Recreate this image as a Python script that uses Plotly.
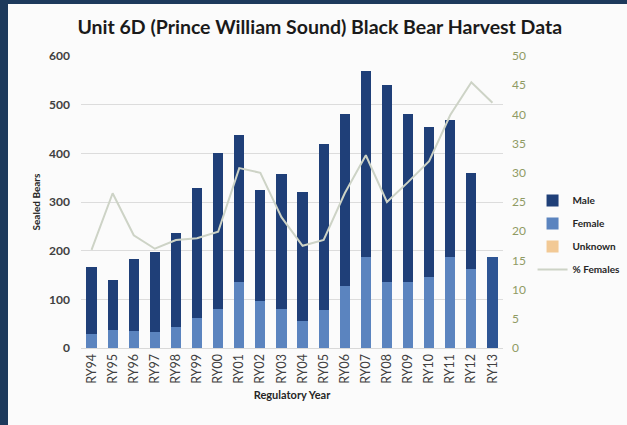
import plotly.graph_objects as go

years = ["RY94", "RY95", "RY96", "RY97", "RY98", "RY99", "RY00", "RY01", "RY02", "RY03",
         "RY04", "RY05", "RY06", "RY07", "RY08", "RY09", "RY10", "RY11", "RY12", "RY13"]
female = [28, 37, 35, 33, 44, 62, 80, 135, 97, 80, 56, 78, 127, 188, 135, 136, 145, 187, 163, 0]
male = [139, 103, 148, 164, 192, 266, 320, 302, 227, 277, 264, 341, 353, 381, 405, 344, 309, 281, 196, 187]
unknown = [0] * 20
pct_female = [16.8, 26.5, 19.3, 17.0, 18.5, 18.8, 19.9, 30.8, 30.0, 22.4,
              17.5, 18.5, 26.5, 33.0, 25.0, 28.4, 32.0, 39.9, 45.5, 42.0]

W, H = 627, 425
ML, MR, MT, MB = 81, 124, 56, 77
pw = W - ML - MR
ph = H - MT - MB

male_colors = ["#1f3f78"] * 19 + ["#2d5594"]

fig = go.Figure()
fig.add_trace(go.Bar(x=years, y=female, name="Female", marker=dict(color="#5b84bf", line=dict(width=0)),
                     legendrank=2, legendgroup="f"))
fig.add_trace(go.Bar(x=years, y=male, name="Male", marker=dict(color=male_colors, line=dict(width=0)),
                     legendrank=1, legendgroup="m"))
fig.add_trace(go.Bar(x=years, y=unknown, name="Unknown", marker=dict(color="#f2c995", line=dict(width=0)),
                     legendrank=3, legendgroup="u"))
fig.add_trace(go.Scatter(x=years, y=pct_female, name="% Females", mode="lines", yaxis="y2",
                         line=dict(color="#cdd3c6", width=2), legendrank=4, legendgroup="p"))

def px_x(p):
    return (p - ML) / pw

def px_y(p):
    return (H - MB - p) / ph

# dark frame comes from the paper colour; a light panel covers all but the top and left edges
shapes = [
    dict(type="rect", xref="paper", yref="paper", x0=px_x(8), x1=px_x(W + 2), y0=px_y(H + 2), y1=px_y(4),
         fillcolor="#fbfbfb", line=dict(width=0), layer="below"),
]

fig.update_layout(
    width=W, height=H,
    margin=dict(l=ML, r=MR, t=MT, b=MB, pad=0, autoexpand=False),
    paper_bgcolor="#1d3a5c", plot_bgcolor="#fbfbfb",
    barmode="stack", bargap=0.52,
    title=dict(text="<b>Unit 6D (Prince William Sound) Black Bear Harvest Data</b>",
               x=0.51, xanchor="center", y=0.935, yanchor="middle",
               font=dict(family="Lato", size=19.5, color="#1a1a1a")),
    font=dict(family="Lato", color="#404040"),
    xaxis=dict(tickangle=-90, tickfont=dict(size=12.5, color="#404040"), showgrid=False,
               showline=True, linecolor="#d9d9d9", ticks="",
               title=dict(text="<b>Regulatory Year</b>", font=dict(size=11, color="#262626"), standoff=8)),
    yaxis=dict(range=[0, 600], dtick=100, showgrid=True, gridcolor="#dcdcdc", gridwidth=1,
               zeroline=False, tickfont=dict(size=12, color="#404040", weight="bold"), ticks="",
               ticklabelstandoff=10,
               title=dict(text="<b>Sealed Bears</b>", font=dict(size=10, color="#262626"), standoff=6)),
    yaxis2=dict(range=[0, 50], dtick=5, overlaying="y", side="right", showgrid=False, zeroline=False,
                tickfont=dict(size=12, color="#8f9a63"), ticks="", ticklabelstandoff=8),
    legend=dict(x=1.07, xanchor="left", y=px_y(186), yanchor="top", tracegroupgap=4,
                font=dict(size=10, color="#262626", weight="bold"), bgcolor="rgba(0,0,0,0)",
                itemwidth=30),
    shapes=shapes,
)

fig.write_html("out.html", config={"displayModeBar": False},
               post_script="document.body.style.margin='0px';document.body.style.overflow='hidden';")
